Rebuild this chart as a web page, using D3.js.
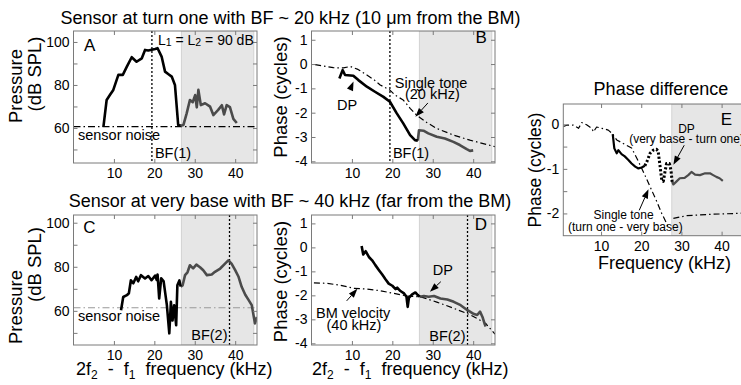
<!DOCTYPE html>
<html>
<head>
<meta charset="utf-8">
<script src="https://cdn.jsdelivr.net/npm/d3@7/dist/d3.min.js"></script>
<style>
  html, body { margin: 0; padding: 0; background: #fff; }
  svg { display: block; }
  text { font-family: "Liberation Sans", Arial, Helvetica, sans-serif; fill: #000; }
</style>
</head>
<body>
<svg id="fig" width="741" height="385"></svg>
<script>
// ---------------- data ----------------
const xTickValues = [10, 20, 30, 40];
const levelTicks = [50, 60, 70, 80, 90, 100];
const levelTickLabels = [60, 80, 100];
const phaseTicks = [-4, -3, -2, -1, 0, 1];
const diffTicks = [-2, -1.5, -1, -0.5, 0];
const diffTickLabels = [-2, -1, 0];

const shadeBand = [26.7, 44.6];     // kHz, shaded region in A-D
const diffShadeBand = [27.6, 47];   // kHz, shaded region in E
const bf1 = 19.4;                   // BF at turn one
const bf2 = 38.6;                   // BF at very base

// A: DP pressure, sensor at turn one (dB SPL)
const aFreq  = [7.4, 8.2, 9.0, 9.85, 11.1, 12.2, 13.2, 14.4, 15.6, 16.9, 17.7, 18.5, 20.2, 20.8, 21.8, 22.65, 23.5, 24.3, 25.1, 25.9, 26.5,
                27.2, 28.0, 28.8, 29.5, 30.1, 30.5, 30.9, 31.5, 32.55, 33.8, 34.6, 35.8, 36.7, 37.25, 37.9, 38.7, 39.55, 40.4];
const aLevel = [60.5, 73, 75.3, 77.7, 84.7, 84.7, 88.5, 92.9, 90.8, 92.4, 96.3, 96.0, 96.7, 97.1, 93.2, 86.2, 85, 83.9, 80, 61.4, 61,
                61.4, 66.8, 73, 72, 75.3, 69.6, 77.7, 70.6, 71.5, 69.9, 66, 68.4, 70.6, 66.3, 70.6, 69.7, 64.2, 62.3];
const aNoiseFreq  = [0, 45.4];
const aNoiseLevel = [60.6, 60.6];

// B: DP phase at turn one and single-tone (20 kHz) phase (cycles)
const bDpFreq  = [6.9, 7.7, 8.3, 10.35, 11.6, 13.7, 15.7, 17.8, 19.4, 21.1, 22.7, 24.4, 25.6, 26.3,
                  26.6, 27.7, 28.9, 31.0, 33.0, 35.1, 36.7, 38.4, 39.2, 40.0];
const bDpPhase = [-0.59, -0.25, -0.45, -0.48, -0.66, -0.93, -1.14, -1.35, -1.55, -2.03, -2.44, -2.92, -3.13, -3.15,
                  -2.72, -2.74, -2.85, -2.99, -3.06, -3.2, -3.33, -3.5, -3.57, -3.55];
const bToneFreq  = [0.9, 3.0, 5.4, 7.9, 9.6, 11.5, 13.7, 15.5, 17.0, 19.4, 20.7, 22.7, 24.4, 26.0, 28.5, 31.0, 35.1, 39.2, 42.0, 45.4];
const bTonePhase = [-0.02, -0.08, -0.15, -0.16, -0.1, -0.22, -0.45, -0.65, -0.86, -1.07, -1.28, -1.48, -1.82, -2.1, -2.4, -2.65, -2.92, -3.13, -3.25, -3.4];

// C: DP pressure, sensor at very base (dB SPL)
const cFreq  = [11.76, 12.3, 13.2, 13.7, 14.2, 14.8, 15.5, 16.0, 16.7, 17.7, 18.5, 19.3, 20.2, 20.6, 20.8, 21.2, 21.7, 22.3, 23.1, 23.7,
                24.1, 24.5, 24.9, 25.4, 25.7, 26.2, 26.5, 27.0, 27.6, 28.2, 28.8, 29.6, 30.4, 31.3, 32.1, 33.0, 34.2, 35.0, 36.3,
                37.5, 38.3, 39.1, 40.0, 40.8, 41.6, 42.5, 43.3, 44.1, 44.9, 45.4];
const cLevel = [60.3, 66.3, 67.1, 68, 73.9, 72.5, 75.4, 73.4, 76.2, 74.7, 75.8, 73.9, 76, 74, 76.5, 65.6, 74.8, 73.4, 62.6, 49.8,
                64.1, 55.6, 62.5, 53.5, 71.6, 73.8, 71, 71.6, 76.2, 77.5, 80.7, 79.3, 81, 79.8, 78.4, 76.2, 76.5, 77.7, 79.2,
                81.4, 82.9, 81.4, 78.5, 75.6, 70.9, 67.3, 65, 62.6, 54.3, 57.2];
const cNoiseFreq  = [0, 45.4];
const cNoiseLevel = [61.4, 61.4];

// D: DP phase at very base and BM velocity (40 kHz) phase (cycles)
const dDpFreq  = [12.4, 12.8, 13.4, 14.2, 15.0, 15.8, 16.7, 17.5, 18.3, 19.1, 20.0, 20.8, 21.2, 22.0, 22.9, 23.5, 23.8, 24.1, 24.9, 25.7, 26.3, 26.8,
                  27.8, 29.0, 30.3, 31.9, 33.6, 35.2, 36.9, 38.5, 40.2, 41.0, 41.7, 42.3, 42.8, 43.1];
const dDpPhase = [0.06, -0.30, -0.16, -0.4, -0.54, -0.74, -0.95, -1.13, -1.33, -1.51, -1.6, -1.74, -1.68, -1.82, -1.92, -2.06, -2.48, -2.1, -1.96, -1.88, -1.99, -2.06,
                  -2.03, -2.06, -2.03, -2.13, -2.17, -2.27, -2.41, -2.61, -2.78, -2.82, -2.68, -2.9, -3.17, -3.3];
const dBmFreq  = [0.6, 3.9, 7.2, 10.5, 13.8, 17.1, 20.4, 23.7, 27.0, 31.0, 35.2, 39.4, 43.1, 45.4];
const dBmPhase = [-1.48, -1.5, -1.58, -1.71, -1.74, -1.81, -1.92, -2.03, -2.06, -2.28, -2.54, -2.82, -3.17, -3.62];

// E: phase differences between the two sensor locations (cycles)
const eDpFreq  = [12.9, 13.3, 13.9, 14.3, 15.1, 15.9, 16.8, 17.6, 18.5, 19.3, 20.1, 20.9,
                  21.4, 22.2, 23.0, 23.8, 24.2, 24.7, 25.1, 25.5, 25.9, 26.3, 27.0, 27.4, 27.7,
                  28.0, 28.8, 29.6, 30.8, 31.7, 32.5, 33.4, 34.6, 35.9, 37.1, 37.9, 38.7, 39.5, 40.3];
const eDpPhase = [-0.22, -0.54, -0.65, -0.58, -0.67, -0.72, -0.8, -0.88, -0.95, -0.99, -0.97, -0.93,
                  -0.84, -0.65, -0.58, -0.56, -0.6, -0.95, -1.25, -1.28, -1.07, -0.88, -0.88, -1.03, -1.29,
                  -1.35, -1.28, -1.21, -1.2, -1.14, -1.07, -1.13, -1.14, -1.1, -1.1, -1.14, -1.18, -1.21, -1.27];
const eToneFreq  = [0.6, 1.5, 3.1, 4.4, 5.2, 6.4, 7.7, 8.1, 8.9, 10.2, 11.8, 12.7, 13.9, 15.5, 17.6, 18.9, 20.9, 22.6, 23.9, 25.1, 26.3, 26.8,
                    27.2, 28.0, 31.3, 37.1, 43.8, 46.0];
const eTonePhase = [-0.05, -0.02, -0.02, -0.09, 0.04, -0.01, -0.09, -0.17, -0.06, -0.09, -0.13, -0.2, -0.35, -0.43, -0.53, -0.76, -1.14, -1.48, -1.74, -2.0, -2.22, -2.34,
                    null, -2.11, -2.05, -2.02, -2.0, -1.99];

// ---------------- drawing ----------------
const svg = d3.select("#fig");
const defs = svg.append("defs");
const AXIS = "#7a7a7a";
const DARK = "#4b4b4b";

function makePanel(name, box, xDomain, yDomain) {
  const x = d3.scaleLinear().domain(xDomain).range([box.left, box.left + box.width]);
  const y = d3.scaleLinear().domain(yDomain).range([box.top + box.height, box.top]);
  defs.append("clipPath").attr("id", "clip-" + name).append("rect")
    .attr("x", box.left).attr("y", box.top).attr("width", box.width).attr("height", box.height);
  const root = svg.append("g").attr("class", "panel-" + name);
  const inner = root.append("g").attr("clip-path", `url(#clip-${name})`);
  return { x, y, box, root, inner };
}

function shade(p, band) {
  p.inner.append("rect")
    .attr("x", p.x(band[0])).attr("y", p.box.top)
    .attr("width", p.x(band[1]) - p.x(band[0])).attr("height", p.box.height)
    .attr("fill", "#e6e6e6").attr("stroke", "#d3d3d3").attr("stroke-width", 1);
}

function vline(p, f) {
  p.inner.append("line")
    .attr("x1", p.x(f)).attr("x2", p.x(f)).attr("y1", p.box.top).attr("y2", p.box.top + p.box.height)
    .attr("stroke", "#000").attr("stroke-width", 1.3).attr("stroke-dasharray", "2,2");
}

function pairs(fs, vs) { return fs.map((f, i) => [f, vs[i]]); }

function curve(p, data, stroke, width, dash) {
  const line = d3.line().defined(d => d[1] != null).x(d => p.x(d[0])).y(d => p.y(d[1]));
  const path = p.inner.append("path").datum(data).attr("d", line)
    .attr("fill", "none").attr("stroke", stroke).attr("stroke-width", width)
    .attr("stroke-linejoin", "round");
  if (dash) path.attr("stroke-dasharray", dash);
  return path;
}

// split a series at frequency s: the second part starts at the last point of the first
function splitAt(data, s) {
  let i = 0;
  data.forEach((d, k) => { if (d[0] <= s) i = k; });
  return [data.slice(0, i + 1), data.slice(i)];
}

function axes(p, yTicks, yLabels, showRight) {
  const { left, top, width, height } = p.box;
  const style = g => {
    g.select(".domain").remove();
    g.selectAll(".tick line").attr("stroke", AXIS);
    g.selectAll(".tick text").attr("font-size", 14).attr("fill", "#000");
  };
  p.root.append("g").attr("transform", `translate(0,${top + height})`)
    .call(d3.axisBottom(p.x).tickValues(xTickValues).tickSize(-4).tickPadding(5).tickFormat(d => String(d)))
    .call(style);
  p.root.append("g").attr("transform", `translate(0,${top})`)
    .call(d3.axisTop(p.x).tickValues(xTickValues).tickSize(-4).tickFormat(""))
    .call(style);
  p.root.append("g").attr("transform", `translate(${left},0)`)
    .call(d3.axisLeft(p.y).tickValues(yTicks).tickSize(-4).tickPadding(4)
      .tickFormat(d => yLabels.includes(d) ? String(d) : ""))
    .call(style);
  if (showRight) {
    p.root.append("g").attr("transform", `translate(${left + width},0)`)
      .call(d3.axisRight(p.y).tickValues(yTicks).tickSize(-4).tickFormat(""))
      .call(style);
  }
  p.root.append("rect").attr("x", left).attr("y", top).attr("width", width).attr("height", height)
    .attr("fill", "none").attr("stroke", AXIS).attr("stroke-width", 1);
}

function label(p, f, v, str, size, anchor) {
  return p.root.append("text").attr("x", p.x(f)).attr("y", p.y(v))
    .attr("font-size", size).attr("text-anchor", anchor || "start").text(str);
}

function arrow(p, f1, v1, f2, v2) {
  const x1 = p.x(f1), y1 = p.y(v1), x2 = p.x(f2), y2 = p.y(v2);
  const a = Math.atan2(y2 - y1, x2 - x1);
  const L = 9, hw = 3.3;
  const bx = x2 - L * Math.cos(a), by = y2 - L * Math.sin(a);
  p.root.append("line").attr("x1", x1).attr("y1", y1).attr("x2", bx).attr("y2", by)
    .attr("stroke", "#000").attr("stroke-width", 1);
  p.root.append("path")
    .attr("d", `M${x2},${y2}L${bx + hw * Math.sin(a)},${by - hw * Math.cos(a)}L${bx - hw * Math.sin(a)},${by + hw * Math.cos(a)}Z`)
    .attr("fill", "#000");
}

function yTitle(x, cy, str, size) {
  svg.append("text").attr("transform", `translate(${x},${cy}) rotate(-90)`)
    .attr("text-anchor", "middle").attr("font-size", size).text(str);
}

function dpAxisTitle(x, y) {
  const t = svg.append("text").attr("x", x).attr("y", y).attr("font-size", 18).attr("xml:space", "preserve");
  t.append("tspan").text("2f");
  t.append("tspan").attr("font-size", 12).attr("dy", 4).text("2");
  t.append("tspan").attr("dy", -4).text("  -  f");
  t.append("tspan").attr("font-size", 12).attr("dy", 4).text("1");
  t.append("tspan").attr("dy", -4).text("  frequency (kHz)");
}

// titles
svg.append("text").attr("x", 290.5).attr("y", 24).attr("text-anchor", "middle").attr("font-size", 18)
  .text("Sensor at turn one with BF ~ 20 kHz (10 \u03bcm from the BM)");
svg.append("text").attr("x", 290).attr("y", 207).attr("text-anchor", "middle").attr("font-size", 18)
  .text("Sensor at very base with BF ~ 40 kHz (far from the BM)");
svg.append("text").attr("x", 661).attr("y", 95).attr("text-anchor", "middle").attr("font-size", 18)
  .text("Phase difference");

const xDom = [0, 45.4];

// ---- Panel A ----
const A = makePanel("A", { left: 73.5, top: 31, width: 183.5, height: 132 }, xDom, [43.7, 105.1]);
shade(A, shadeBand);
vline(A, bf1);
curve(A, pairs(aNoiseFreq, aNoiseLevel), "#000", 1.4, "7,3,1.5,3");
{
  const [blk, gry] = splitAt(pairs(aFreq, aLevel), 26.8);
  curve(A, gry, DARK, 2.6);
  curve(A, blk, "#000", 2.6);
}
axes(A, levelTicks, levelTickLabels, true);
label(A, 2.6, 96.0, "A", 17);
{
  const t = label(A, 20.9, 98.8, "", 14);
  t.append("tspan").text("L");
  t.append("tspan").attr("font-size", 10.5).attr("dy", 1.5).text("1");
  t.append("tspan").attr("dy", -1.5).text(" = L");
  t.append("tspan").attr("font-size", 10.5).attr("dy", 1.5).text("2");
  t.append("tspan").attr("dy", -1.5).text(" = 90 dB");
}
label(A, 1.1, 54.4, "sensor noise", 14.5);
A.root.append("text").attr("x", A.x(bf1) + 3).attr("y", 158).attr("font-size", 14.5).text("BF(1)");
yTitle(21.5, 86, "Pressure", 18.5);
yTitle(40.5, 74, "(dB SPL)", 18.5);

// ---- Panel B ----
const B = makePanel("B", { left: 311.5, top: 31, width: 183.5, height: 132 }, xDom, [-4.07, 1.36]);
shade(B, shadeBand);
vline(B, bf1);
curve(B, pairs(bToneFreq, bTonePhase), "#000", 1.2, "6,3,1.5,3");
{
  const [blk, gry] = splitAt(pairs(bDpFreq, bDpPhase), 26.4);
  curve(B, gry, DARK, 2.6);
  curve(B, blk, "#000", 2.6);
}
axes(B, phaseTicks, phaseTicks, true);
label(B, 43.4, 0.86, "B", 17, "end");
label(B, 8.8, -1.89, "DP", 14.5, "middle");
arrow(B, 9.5, -1.07, 10.4, -0.72);
label(B, 29.6, -0.99, "Single tone", 14.5, "middle");
label(B, 29.9, -1.44, "(20 kHz)", 14.5, "middle");
arrow(B, 28.8, -1.6, 25.7, -2.17);
B.root.append("text").attr("x", B.x(bf1) + 3).attr("y", 158).attr("font-size", 14.5).text("BF(1)");
yTitle(287, 97, "Phase (cycles)", 18.5);

// ---- Panel C ----
const C = makePanel("C", { left: 73.5, top: 215, width: 183.5, height: 130 }, xDom, [44.5, 103.5]);
shade(C, shadeBand);
vline(C, bf2);
curve(C, pairs(cNoiseFreq, cNoiseLevel), "#999", 1.1, "7,3,1.5,3");
{
  const [blk, gry] = splitAt(pairs(cFreq, cLevel), 26.7);
  curve(C, gry, DARK, 2.6);
  curve(C, blk, "#000", 2.6);
}
axes(C, levelTicks, levelTickLabels, true);
label(C, 2.4, 95.2, "C", 17);
label(C, 1.1, 55.3, "sensor noise", 14.5);
C.root.append("text").attr("x", C.x(bf2) - 2).attr("y", 340).attr("font-size", 14.5).attr("text-anchor", "end").text("BF(2)");
yTitle(21.5, 307, "Pressure", 18.5);
yTitle(40.5, 264.5, "(dB SPL)", 18.5);
dpAxisTitle(76, 375);

// ---- Panel D ----
const D = makePanel("D", { left: 311.5, top: 215, width: 183.5, height: 130 }, xDom, [-4.07, 1.35]);
shade(D, shadeBand);
vline(D, bf2);
curve(D, pairs(dBmFreq, dBmPhase), "#000", 1.2, "6,3,1.5,3");
{
  const [blk, gry] = splitAt(pairs(dDpFreq, dDpPhase), 26.8);
  curve(D, gry, DARK, 2.6);
  curve(D, blk, "#000", 2.6);
}
axes(D, phaseTicks, phaseTicks, true);
label(D, 43.4, 0.72, "D", 17, "end");
label(D, 32.5, -1.15, "DP", 14.5, "middle");
arrow(D, 32.0, -1.43, 29.3, -1.85);
label(D, 10.3, -2.94, "BM velocity", 14.5, "middle");
label(D, 10.5, -3.44, "(40 kHz)", 14.5, "middle");
arrow(D, 8.7, -2.23, 11.35, -1.73);
D.root.append("text").attr("x", D.x(bf2) - 2).attr("y", 341).attr("font-size", 14.5).attr("text-anchor", "end").text("BF(2)");
yTitle(287, 281.5, "Phase (cycles)", 18.5);
dpAxisTitle(312, 375);

// ---- Panel E ----
const E = makePanel("E", { left: 563.3, top: 104, width: 182, height: 131.7 }, [0.6, 45.9], [-2.5, 0.456]);
shade(E, diffShadeBand);
curve(E, pairs(eToneFreq, eTonePhase), "#000", 1.2, "6,3,1.5,3");
{
  const all = pairs(eDpFreq, eDpPhase);
  const [solid, rest] = splitAt(all, 20.9);
  const [dotted, gry] = splitAt(rest, 27.7);
  curve(E, gry, DARK, 2.2);
  curve(E, solid, "#000", 2.2);
  curve(E, dotted, "#000", 3, "2.2,2");
}
axes(E, diffTicks, diffTickLabels, false);
label(E, 39.8, -0.02, "E", 17);
label(E, 29.2, -0.2, "DP", 12);
label(E, 17.0, -0.43, "(very base - turn one)", 12);
arrow(E, 30.7, -0.47, 28.0, -0.91);
label(E, 15.6, -2.13, "Single tone", 12, "middle");
label(E, 16.05, -2.4, "(turn one - very base)", 12, "middle");
arrow(E, 19.5, -1.93, 21.8, -1.46);
yTitle(541, 170, "Phase (cycles)", 17.5);
svg.append("text").attr("x", 664.5).attr("y", 269).attr("text-anchor", "middle").attr("font-size", 18)
  .text("Frequency (kHz)");
</script>
</body>
</html>
